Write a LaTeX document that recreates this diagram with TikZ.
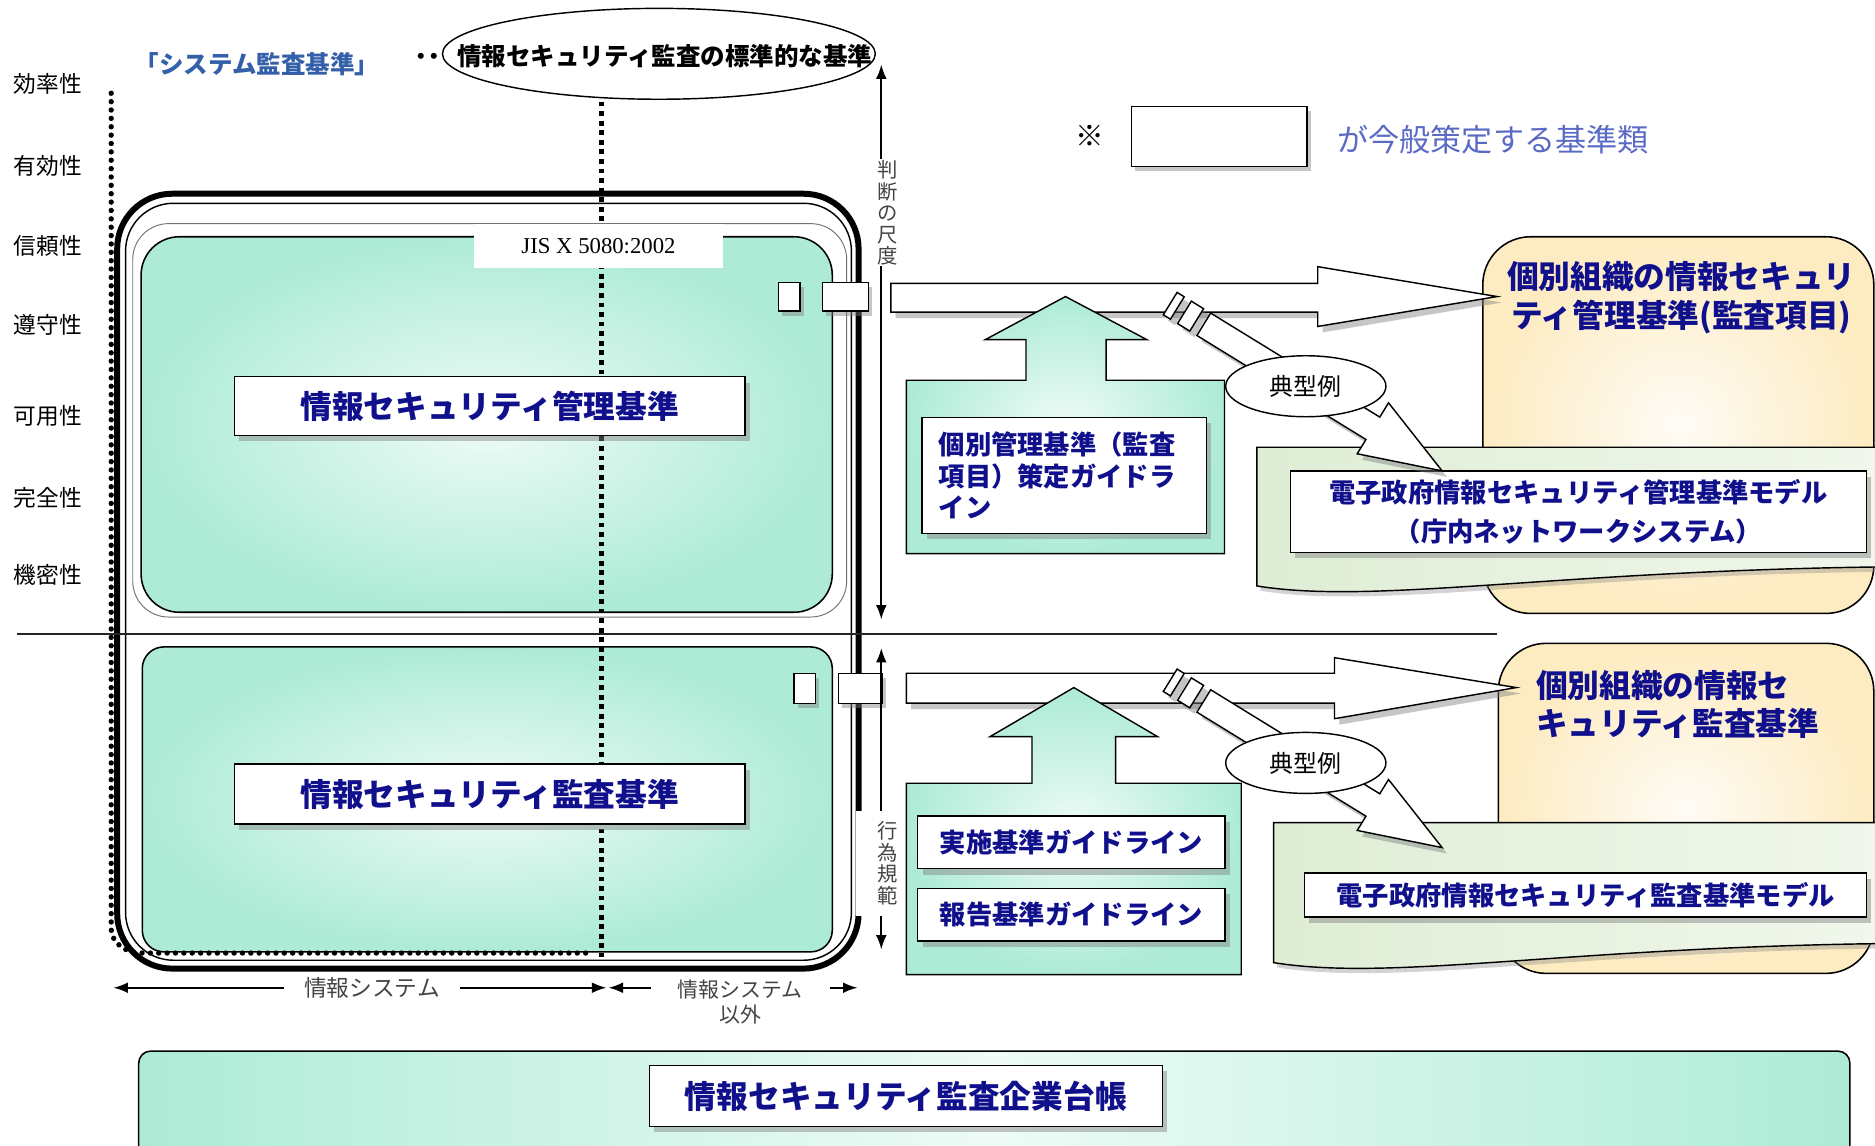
\documentclass[tikz,border=0pt]{standalone}
\usepackage{fontspec}
\setmainfont{Noto Sans CJK JP}
\newfontfamily\jisfont{Liberation Serif}
\usepackage{tikz}
\usetikzlibrary{shapes.geometric,shadows,arrows.meta}

\definecolor{mint}{HTML}{ADEBD7}
\definecolor{cream}{HTML}{FDEBC1}
\definecolor{docgreen}{HTML}{DFEDD5}
\definecolor{navy}{HTML}{10108C}
\definecolor{steel}{HTML}{3460AA}
\definecolor{slate}{HTML}{5A6AC4}
\definecolor{ink}{HTML}{444444}

\begin{document}
\begin{tikzpicture}[x=1pt,y=-1pt,>={Latex[length=12pt,width=9pt]},
  tag/.style={font=\fontsize{19}{19}\selectfont},
  plate/.style={draw=black,fill=white,line width=1.2pt,text=navy,
    drop shadow={opacity=.45,shadow xshift=4pt,shadow yshift=-5pt}},
  sq/.style={draw=black,fill=white,line width=1pt,inner sep=0pt,
    drop shadow={opacity=.45,shadow xshift=3pt,shadow yshift=-4pt}},
  big/.style={font=\bfseries\fontsize{26.5}{32}\selectfont},
  mid/.style={font=\bfseries\fontsize{22}{26.5}\selectfont},
  pane/.style={draw=black,line width=1.3pt,inner color=mint!20!white,outer color=mint},
  blk/.style={draw=black,fill=white,line width=1.2pt,
    drop shadow={opacity=.45,shadow xshift=4pt,shadow yshift=-5pt}},
  side/.style={fill=white,text=ink,inner sep=1pt,align=center,font=\fontsize{17}{18}\selectfont},
  bubble/.style={draw=black,ellipse,fill=white,line width=1.2pt,minimum width=134pt,
    minimum height=51pt,font=\fontsize{20}{20}\selectfont}]
\clip (0,0) rectangle (1568,958);

% right hand side
\path[draw=black,line width=1.3pt,rounded corners=40pt,inner color=cream!15!white,outer color=cream]
  (1240,198) rectangle (1567,513);
\path[draw=black,line width=1.3pt,rounded corners=40pt,inner color=cream!15!white,outer color=cream]
  (1253,538) rectangle (1567,814);
\node[big,text=navy,align=center] (orgm) at (1406,249) {個別組織の情報セキュリ\\ティ管理基準(監査項目)};
\node[big,text=navy,align=left,anchor=west] (orga) at (1281,589) {個別組織の情報セ\\キュリティ監査基準};

\path[draw=black,line width=1.2pt,left color=docgreen,right color=docgreen!45!white,
  drop shadow={opacity=.35,shadow xshift=3pt,shadow yshift=-4pt}]
  (1051,374) -- (1580,374) -- (1580,474) .. controls (1300,477) and (1150,506) .. (1051,490) -- cycle;
\path[draw=black,line width=1.2pt,left color=docgreen,right color=docgreen!45!white,
  drop shadow={opacity=.35,shadow xshift=3pt,shadow yshift=-4pt}]
  (1065,688) -- (1580,688) -- (1580,789) .. controls (1310,792) and (1165,821) .. (1065,805) -- cycle;
\node[plate,mid,align=center,minimum width=482pt,minimum height=68pt,
  font=\bfseries\fontsize{22}{32}\selectfont] (egm) at (1320,428)
  {電子政府情報セキュリティ管理基準モデル\\（庁内ネットワークシステム）};
\node[plate,mid,minimum width=470pt,minimum height=37pt,inner sep=0pt] (ega) at (1326,748.5)
  {電子政府情報セキュリティ監査基準モデル};

% left hand side
\path[pane,rounded corners=32pt] (118,198) rectangle (696,512);
\path[pane,rounded corners=18pt] (119,541) rectangle (696,796);
\draw[black!55,line width=0.8pt,rounded corners=30pt] (111,187) rectangle (708,516);
\draw[line width=5pt,rounded corners=46pt] (98,162) rectangle (718,810);
\draw[line width=1.2pt,rounded corners=40pt] (105,170) rectangle (712,803);
\draw[line width=4.5pt,line cap=round,dash pattern=on 0pt off 7pt]
  (93,78) -- (93,776) to[out=-90,in=180] (118,797) -- (490,797);
\draw[line width=4pt,dash pattern=on 4pt off 4pt] (503,85) -- (503,800);
\node[fill=white,minimum width=208pt,minimum height=37pt,
  font=\jisfont\fontsize{19}{19}\selectfont] (jis) at (500.5,205.5) {JIS X 5080:2002};
\draw[black!85,line width=1.3pt] (14,530) -- (1252,530);
\node[plate,big,minimum width=427pt,minimum height=49pt,inner sep=0pt] (mgmt) at (409.5,339.5)
  {情報セキュリティ管理基準};
\node[plate,big,minimum width=427pt,minimum height=50pt,inner sep=0pt] (audit) at (409.5,664)
  {情報セキュリティ監査基準};

\node[sq,minimum width=18pt,minimum height=24pt] (m1) at (660,248) {};
\node[sq,minimum width=38pt,minimum height=24pt] (m2) at (707,248) {};
\node[sq,minimum width=18pt,minimum height=25pt] (a1) at (673,575.5) {};
\node[sq,minimum width=37pt,minimum height=25pt] (a2) at (719.5,575.5) {};

\node[tag] (eff) at (40,70) {効率性};
\node[tag] (vld) at (40,139) {有効性};
\node[tag] (rel) at (40,206) {信頼性};
\node[tag] (cmp) at (40,272) {遵守性};
\node[tag] (avl) at (40,348) {可用性};
\node[tag] (itg) at (40,416) {完全性};
\node[tag] (cnf) at (40,481) {機密性};

% scales
\coordinate (jt) at (737,54);
\coordinate (jb) at (737,518);
\draw[<->,line width=1.4pt] (jb) -- (jt);
\node[side] (jl) at (742,178) {判\\断\\の\\尺\\度};
\coordinate (kt) at (737,542);
\coordinate (kb) at (737,794);
\draw[<->,line width=1.4pt] (kb) -- (kt);
\node[side,minimum width=52pt,minimum height=88pt] (kl) at (742,722) {行\\為\\規\\範};

\coordinate (sl) at (95,826);
\coordinate (sr) at (507,826);
\draw[<->,line width=1.4pt] (sl) -- (sr);
\node[fill=white,text=ink,inner xsep=17pt,font=\fontsize{19}{21}\selectfont] (sys) at (311,826) {情報システム};
\coordinate (ol) at (509,826);
\coordinate (or) at (717,826);
\draw[<->,line width=1.4pt] (ol) -- (or);
\node[fill=white,text=ink,align=center,minimum width=150pt,inner sep=1pt,
  font=\fontsize{17.5}{21}\selectfont] (oth) at (619,838) {情報システム\\以外};

% flows
\path[blk] (745,237) -- (1102,237) -- (1102,223) -- (1252,248) -- (1102,273) -- (1102,261) -- (745,261) -- cycle;
\path[blk] (758,563) -- (1116,563) -- (1116,550) -- (1268,575) -- (1116,601) -- (1116,588) -- (758,588) -- cycle;

\path[pane,line width=1.2pt] (758,463) -- (758,318) -- (858,318) -- (858,284) -- (824,284) -- (891,248)
  -- (959,284) -- (925,284) -- (925,318) -- (1024,318) -- (1024,463) -- cycle;
\path[pane,line width=1.2pt] (758,815) -- (758,655) -- (863,655) -- (863,616) -- (828,616) -- (898,575)
  -- (968,616) -- (933,616) -- (933,655) -- (1038,655) -- (1038,815) -- cycle;
\node[plate,mid,align=left,text width=210pt,inner xsep=14pt,minimum height=97pt] (gd) at (890,397.5)
  {個別管理基準（監査\\項目）策定ガイドラ\\イン};
\node[plate,mid,minimum width=257pt,minimum height=44pt,inner sep=0pt] (imp) at (896,704.5) {実施基準ガイドライン};
\node[plate,mid,minimum width=257pt,minimum height=44pt,inner sep=0pt] (rep) at (896,765) {報告基準ガイドライン};

\begin{scope}[shift={(982,256)},rotate=-31.6]
  \path[blk] (-4,-11) rectangle (3,11);
  \path[blk] (10,-11) rectangle (22,11);
  \path[blk] (29,-11) -- (195,-11) -- (195,-25) -- (263,0) -- (195,25) -- (195,11) -- (29,11) -- cycle;
\end{scope}
\begin{scope}[shift={(982,571)},rotate=-31.6]
  \path[blk] (-4,-11) rectangle (3,11);
  \path[blk] (10,-11) rectangle (22,11);
  \path[blk] (29,-11) -- (195,-11) -- (195,-25) -- (263,0) -- (195,25) -- (195,11) -- (29,11) -- cycle;
\end{scope}
\node[bubble] (ex1) at (1092,323) {典型例};
\node[bubble] (ex2) at (1092,638) {典型例};

% top
\node[text=steel,font=\bfseries\fontsize{20.5}{20}\selectfont] (sysstd) at (215,54) {「システム監査基準」};
\node[font=\bfseries\fontsize{18}{18}\selectfont] (dots) at (358,49) {・\kern-7pt・};
\node[draw=black,ellipse,line width=1.2pt,minimum width=362pt,minimum height=76pt] (std) at (551,45) {};
\node[font=\bfseries\fontsize{20.5}{20}\selectfont] (stdt) at (556,47) {情報セキュリティ監査の標準的な基準};
\node[font=\fontsize{24}{24}\selectfont] (kome) at (911,114) {※};
\node[sq,minimum width=147pt,minimum height=50pt] (key) at (1019.5,114) {};
\node[text=slate,anchor=west,font=\fontsize{26}{26}\selectfont] (keyt) at (1115,117) {が今般策定する基準類};

% bottom
\path[draw=black,line width=1.3pt,rounded corners=10pt,left color=mint,right color=mint,
  middle color=mint!20!white] (116,879) rectangle (1547,980);
\node[plate,big,minimum width=429pt,minimum height=51pt,inner sep=0pt] (ledger) at (757.5,916.5)
  {情報セキュリティ監査企業台帳};
\end{tikzpicture}
\end{document}
